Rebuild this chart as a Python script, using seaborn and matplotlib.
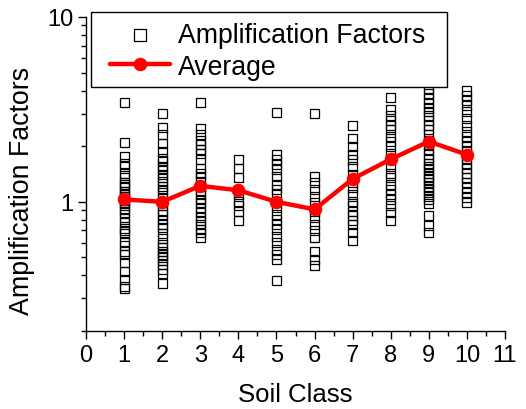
import matplotlib
matplotlib.use("Agg")
import matplotlib.pyplot as plt
import matplotlib.ticker as mticker
from matplotlib.patches import Rectangle
import seaborn as sns
import pandas as pd

# ---- data ----
class1 = [3.44, 2.09, 1.76, 1.62, 1.55, 1.43, 1.35, 1.28, 1.24, 1.19, 1.14, 1.10, 1.07,
          1.02, 0.99, 0.95, 0.91, 0.87, 0.82, 0.77, 0.72, 0.70, 0.67, 0.61, 0.58, 0.54,
          0.52, 0.47, 0.42, 0.38, 0.35, 0.34]
class2 = [3.01, 2.52, 2.30, 2.08, 1.87, 1.72, 1.65, 1.56, 1.49, 1.40, 1.35, 1.29, 1.21,
          1.16, 1.12, 1.05, 0.99, 0.95, 0.89, 0.85, 0.80, 0.755, 0.725, 0.67, 0.63, 0.59,
          0.565, 0.54, 0.52, 0.50, 0.48, 0.46, 0.43, 0.41, 0.36]
class3 = [3.45, 2.48, 2.30, 2.16, 2.03, 1.91, 1.83, 1.69, 1.52, 1.43, 1.37, 1.29, 1.21,
          1.14, 1.09, 1.03, 0.99, 0.93, 0.87, 0.82, 0.79, 0.755, 0.71, 0.68, 0.64]
class4 = [1.69, 1.52, 1.36, 1.09, 1.01, 0.95, 0.89, 0.79]
class5 = [3.05, 1.81, 1.69, 1.59, 1.49, 1.37, 1.24, 1.16, 1.09, 1.01, 0.93, 0.85, 0.80,
          0.755, 0.71, 0.65, 0.60, 0.55, 0.52, 0.49, 0.377]
class6 = [3.00, 1.37, 1.27, 1.16, 1.07, 0.99, 0.89, 0.82, 0.755, 0.70, 0.64, 0.54, 0.49, 0.45]
class7 = [2.58, 2.21, 1.99, 1.80, 1.69, 1.56, 1.40, 1.27, 1.19, 1.09, 1.01, 0.95, 0.89,
          0.84, 0.79, 0.755, 0.68, 0.62]
class8 = [3.67, 3.17, 2.94, 2.77, 2.60, 2.45, 2.26, 2.12, 1.99, 1.83, 1.69, 1.56, 1.43,
          1.35, 1.24, 1.16, 1.09, 1.03, 0.95, 0.87, 0.79]
class9 = [4.10, 3.85, 3.63, 3.42, 3.20, 3.07, 2.94, 2.77, 2.60, 2.45, 2.30, 2.16, 2.03,
          1.91, 1.80, 1.69, 1.62, 1.56, 1.49, 1.43, 1.37, 1.32, 1.27, 1.21, 1.16, 1.12,
          1.07, 1.03, 0.975, 0.84, 0.74, 0.68]
class10 = [4.01, 3.77, 3.55, 3.34, 3.07, 2.83, 2.60, 2.40, 2.26, 2.12, 1.99, 1.87, 1.72,
           1.62, 1.52, 1.43, 1.35, 1.27, 1.19, 1.12, 1.05, 0.99]

soil_classes = [1, 2, 3, 4, 5, 6, 7, 8, 9, 10]
average = [1.03, 1.00, 1.22, 1.155, 1.00, 0.91, 1.33, 1.70, 2.12, 1.80]

groups = [class1, class2, class3, class4, class5, class6, class7, class8, class9, class10]
rows = []
for c, vals in zip(soil_classes, groups):
    for v in vals:
        rows.append({"Soil Class": c, "AF": v})
df = pd.DataFrame(rows)
avg_df = pd.DataFrame({"Soil Class": soil_classes, "AF": average})

# ---- plotting ----
sns.set_style("ticks")
plt.rcParams["font.family"] = ["Liberation Sans", "DejaVu Sans"]
for key in ["text.color", "axes.labelcolor", "xtick.color", "ytick.color", "axes.edgecolor"]:
    plt.rcParams[key] = "black"

W, H = 526, 410
L, R, T, B = 86, 505, 18, 332
fig = plt.figure(figsize=(W / 100, H / 100), dpi=100)
ax = fig.add_axes([L / W, 1 - B / H, (R - L) / W, (B - T) / H])

sns.scatterplot(data=df, x="Soil Class", y="AF", marker="s", s=42,
                facecolors="none", edgecolors="black", linewidths=0.9,
                label="Amplification Factors", ax=ax, zorder=2)
sns.lineplot(data=avg_df, x="Soil Class", y="AF", color="red", lw=3.2,
             marker="o", markersize=9, markeredgecolor="red", markerfacecolor="red",
             label="Average", ax=ax, zorder=3)

ax.set_yscale("log")
ax.set_ylim(0.2, 10)
ax.set_xlim(0, 11)

ax.xaxis.set_major_locator(mticker.MultipleLocator(1))
ax.xaxis.set_minor_locator(mticker.MultipleLocator(0.5))
ax.yaxis.set_major_locator(mticker.FixedLocator([1, 10]))
ax.yaxis.set_major_formatter(mticker.FixedFormatter(["1", "10"]))
ax.yaxis.set_minor_locator(mticker.FixedLocator(
    [0.2, 0.3, 0.4, 0.5, 0.6, 0.7, 0.8, 0.9, 2, 3, 4, 5, 6, 7, 8, 9]))
ax.yaxis.set_minor_formatter(mticker.NullFormatter())

for s in ["top", "right"]:
    ax.spines[s].set_visible(False)
for s in ["left", "bottom"]:
    ax.spines[s].set_color("black")
    ax.spines[s].set_linewidth(1.0)

ax.tick_params(which="major", direction="out", length=6, width=1, colors="black",
               labelsize=17, pad=3)
ax.tick_params(which="minor", direction="out", length=3.5, width=1, colors="black")

ax.set_xlabel("Soil Class", fontsize=18.5, labelpad=12)
ax.set_ylabel("Amplification Factors", fontsize=19.3, labelpad=9)
ax.yaxis.label.set_y(0.45)

# legend frame (drawn separately so its padding can match the reference)
def ax_x(px):
    return (px - L) / (R - L)

def ax_y(py):
    return (B - py) / (B - T)

frame = Rectangle((ax_x(91), ax_y(88)), ax_x(447) - ax_x(91), ax_y(13) - ax_y(88),
                  transform=ax.transAxes, facecolor="white", edgecolor="black",
                  linewidth=1.0, clip_on=False, zorder=4)
ax.add_patch(frame)

leg = ax.legend(loc="upper left", bbox_to_anchor=(ax_x(110), ax_y(23)), borderaxespad=0,
                fontsize=19.2, frameon=False, handlelength=2.25, handletextpad=0.3,
                labelspacing=0.21, borderpad=0)
leg.set_zorder(5)
leg.legend_handles[0].set_sizes([70])

fig.savefig("out.png", dpi=100)
